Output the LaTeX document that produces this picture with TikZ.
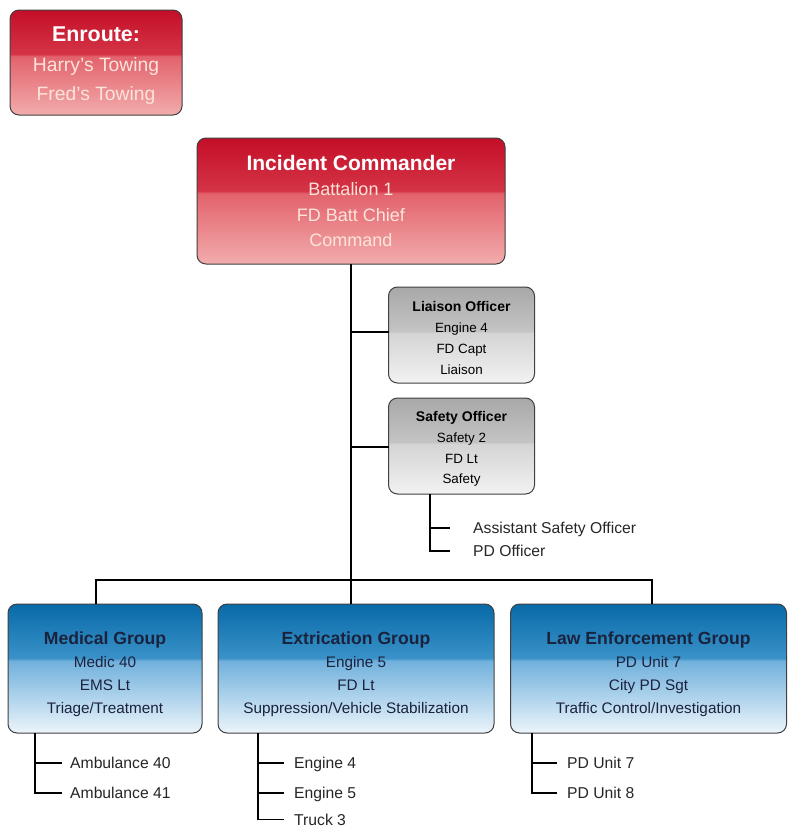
\documentclass[tikz,border=0pt]{standalone}
\usepackage{fontspec}
\setmainfont{Liberation Sans}
\usepackage{tikz}
\definecolor{cmdtop}{RGB}{196,14,40}
\definecolor{cmdmidhi}{RGB}{212,52,70}
\definecolor{cmdmidlo}{RGB}{226,98,108}
\definecolor{cmdbot}{RGB}{242,172,172}
\definecolor{cmdtext}{RGB}{252,228,218}
\definecolor{stafftop}{RGB}{168,168,168}
\definecolor{staffmidhi}{RGB}{196,196,196}
\definecolor{staffmidlo}{RGB}{212,212,212}
\definecolor{staffbot}{RGB}{242,242,242}
\definecolor{grouptop}{RGB}{8,106,168}
\definecolor{groupmidhi}{RGB}{58,146,200}
\definecolor{groupmidlo}{RGB}{112,176,220}
\definecolor{groupbot}{RGB}{236,245,251}
\definecolor{grouptext}{RGB}{26,34,62}
\pgfdeclareverticalshading{redgloss}{100bp}{color(0bp)=(cmdbot); color(25bp)=(cmdbot); color(53bp)=(cmdmidlo); color(54bp)=(cmdmidhi); color(75bp)=(cmdtop); color(100bp)=(cmdtop)}
\pgfdeclareverticalshading{graygloss}{100bp}{color(0bp)=(staffbot); color(25bp)=(staffbot); color(51bp)=(staffmidlo); color(52bp)=(staffmidhi); color(75bp)=(stafftop); color(100bp)=(stafftop)}
\pgfdeclareverticalshading{bluegloss}{100bp}{color(0bp)=(groupbot); color(25bp)=(groupbot); color(53bp)=(groupmidlo); color(54bp)=(groupmidhi); color(75bp)=(grouptop); color(100bp)=(grouptop)}

\begin{document}
\begin{tikzpicture}[x=1pt,y=-1pt]
  \useasboundingbox[fill=white] (0,0) rectangle (788,827);
  \tikzset{BoxStyle/.style = {
    shape           = rectangle,
    rounded corners = 9pt,
    draw            = black!75,
    line width      = 1pt,
    align           = center,
    inner sep       = 0pt,
    outer sep       = 0pt
    }
  }
  \tikzset{CmdBoxStyle/.style = {
    BoxStyle,
    shading         = redgloss,
    text            = cmdtext,
    font            = \fontsize{18}{25.5}\selectfont
    }
  }
  \tikzset{StaffBoxStyle/.style = {
    BoxStyle,
    shading         = graygloss,
    text            = black,
    minimum width   = 146pt,
    minimum height  = 96pt,
    text height     = 78.3pt,
    font            = \fontsize{13.4}{20.7}\selectfont
    }
  }
  \tikzset{GroupBoxStyle/.style = {
    BoxStyle,
    shading         = bluegloss,
    text            = grouptext,
    minimum height  = 129pt,
    text height     = 93.7pt,
    font            = \fontsize{15.3}{23}\selectfont
    }
  }
  \tikzset{ItemStyle/.style = {
    anchor          = west,
    inner sep       = 0pt,
    text height     = 11pt,
    text depth      = 0pt,
    text            = black!85,
    font            = \fontsize{15.7}{18}\selectfont
    }
  }
  \tikzset{LineStyle/.style = {
    draw            = black,
    line width      = 1.6pt
    }
  }

  % command staff
  \node[CmdBoxStyle, minimum width=172pt, minimum height=105pt, text height=80.3pt, font=\fontsize{19.3}{29.5}\selectfont](enroute) at (96, 62.5)
    {{\fontsize{21.4}{25}\selectfont\bfseries\color{white}Enroute:}\\ Harry's Towing\\ Fred's Towing};
  \node[CmdBoxStyle, minimum width=308pt, minimum height=126pt](ic) at (351, 201)
    {{\fontsize{21}{25}\selectfont\bfseries\color{white}Incident Commander}\\ Battalion 1\\ FD Batt Chief\\ Command};
  \node[StaffBoxStyle](liaison) at (461.5, 335)
    {{\fontsize{14}{17}\selectfont\bfseries Liaison Officer}\\ Engine 4\\ FD Capt\\ Liaison};
  \node[StaffBoxStyle](safety) at (461.5, 446)
    {{\fontsize{14}{17}\selectfont\bfseries Safety Officer}\\ Safety 2\\ FD Lt\\ Safety};

  % groups
  \node[GroupBoxStyle, minimum width=194pt](medical) at (105, 668.5)
    {{\fontsize{17.6}{21}\selectfont\bfseries Medical Group}\\ Medic 40\\ EMS Lt\\ Triage/Treatment};
  \node[GroupBoxStyle, minimum width=276pt](extrication) at (356, 668.5)
    {{\fontsize{17.6}{21}\selectfont\bfseries Extrication Group}\\ Engine 5\\ FD Lt\\ Suppression/Vehicle Stabilization};
  \node[GroupBoxStyle, minimum width=276pt](law) at (648.5, 668.5)
    {{\fontsize{17.6}{21}\selectfont\bfseries Law Enforcement Group}\\ PD Unit 7\\ City PD Sgt\\ Traffic Control/Investigation};

  % resources
  \node[ItemStyle](aso) at (473, 528) {Assistant Safety Officer};
  \node[ItemStyle](pdofficer) at (473, 551) {PD Officer};
  \node[ItemStyle](amb40) at (70, 763) {Ambulance 40};
  \node[ItemStyle](amb41) at (70, 793) {Ambulance 41};
  \node[ItemStyle](eng4) at (294, 763) {Engine 4};
  \node[ItemStyle](eng5) at (294, 793) {Engine 5};
  \node[ItemStyle](truck3) at (294, 819.5) {Truck 3};
  \node[ItemStyle](pd7) at (567, 763) {PD Unit 7};
  \node[ItemStyle](pd8) at (567, 793) {PD Unit 8};

  \coordinate (busL) at (96, 580);
  \coordinate (busR) at (652, 580);
  \coordinate (safstem) at (430, 494);
  \coordinate (medstem) at (35, 733);
  \coordinate (extstem) at (258, 733);
  \coordinate (lawstem) at (532, 733);

  % chain of command
  \draw[LineStyle](ic.south) to (ic.south |- extrication.north);
  \draw[LineStyle](ic.south |- 0, 332) to (liaison.west |- 0, 332);
  \draw[LineStyle](ic.south |- 0, 447) to (safety.west |- 0, 447);
  \draw[LineStyle](medical.north -| busL) |- (busR) to (law.north -| busR);

  \draw[LineStyle](safstem) |- ([xshift=-23pt]pdofficer.west);
  \draw[LineStyle](safstem |- aso.west) to ([xshift=-23pt]aso.west);

  \draw[LineStyle](medstem) |- ([xshift=-8pt]amb41.west);
  \draw[LineStyle](medstem |- amb40.west) to ([xshift=-8pt]amb40.west);

  \draw[LineStyle](extstem) |- ([xshift=-10pt]truck3.west);
  \draw[LineStyle](extstem |- eng4.west) to ([xshift=-10pt]eng4.west);
  \draw[LineStyle](extstem |- eng5.west) to ([xshift=-10pt]eng5.west);

  \draw[LineStyle](lawstem) |- ([xshift=-10pt]pd8.west);
  \draw[LineStyle](lawstem |- pd7.west) to ([xshift=-10pt]pd7.west);

\end{tikzpicture}
\end{document}
